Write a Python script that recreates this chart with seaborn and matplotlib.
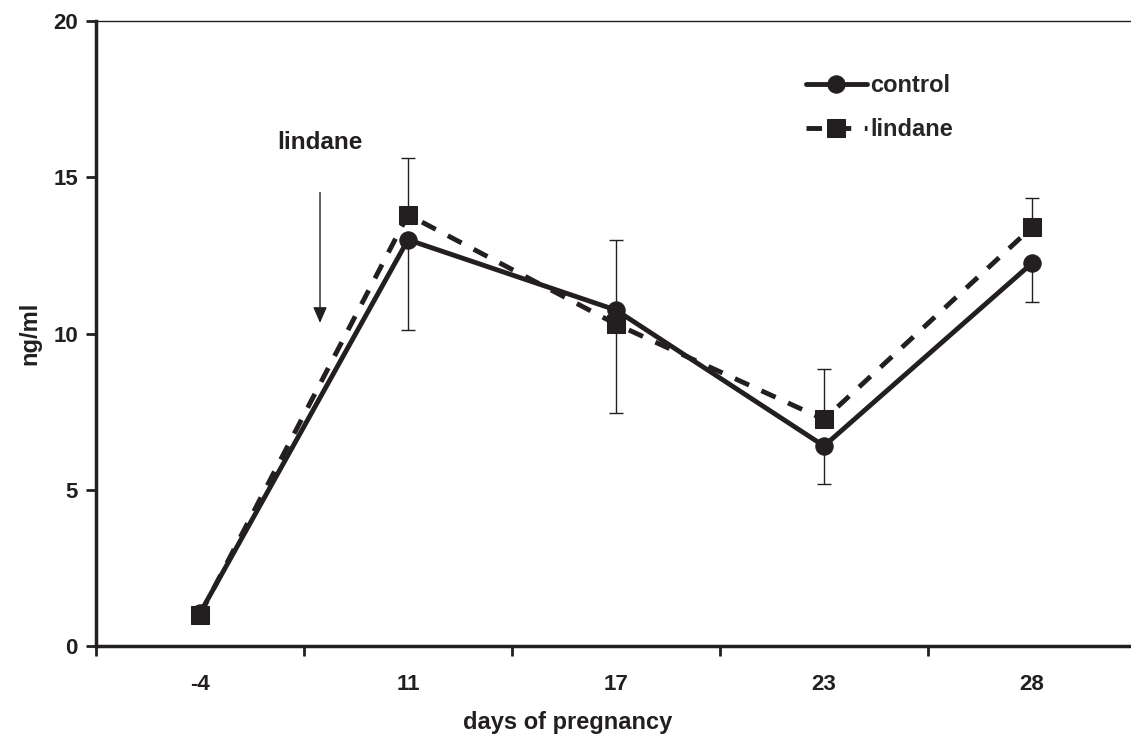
import matplotlib
matplotlib.use("Agg")
import matplotlib.pyplot as plt
import seaborn as sns
import pandas as pd
import numpy as np

days = ["-4", "11", "17", "23", "28"]
control = [1.05, 13.0, 10.75, 6.4, 12.25]
lindane = [1.0, 13.8, 10.3, 7.25, 13.4]
control_err_low = [0.0, 2.9, 3.3, 1.2, 1.25]
lindane_err_high = [0.0, 1.8, 2.7, 1.6, 0.95]
yticks = [0, 5, 10, 15, 20]

sns.set_theme(style="white")
plt.rcParams['font.family'] = ['Liberation Sans', 'DejaVu Sans']
INK = "#231f20"

fig = plt.figure(figsize=(11.31, 7.38), dpi=100)
ax = fig.add_axes([96/1131, 1-646/738, 1-96/1131, (646-21)/738])

x = np.arange(len(days))
df_c = pd.DataFrame({"x": x, "y": control})
df_l = pd.DataFrame({"x": x, "y": lindane})

sns.lineplot(data=df_l, x="x", y="y", ax=ax, color=INK, lw=3.5,
             marker="s", markersize=12.5, markeredgecolor=INK,
             dashes=False, label="lindane", zorder=3)
ax.lines[-1].set_dashes([3.2, 2.8])
sns.lineplot(data=df_c, x="x", y="y", ax=ax, color=INK, lw=3.5,
             marker="o", markersize=12.5, markeredgecolor=INK,
             label="control", zorder=4)

# error bars (upper for lindane, lower for control)
m = x >= 1
ax.errorbar(x[m], np.array(lindane)[m], yerr=[np.zeros(m.sum()), np.array(lindane_err_high)[m]],
            fmt="none", ecolor=INK, elinewidth=1.0, capsize=5, capthick=1.0, zorder=2)
ax.errorbar(x[m], np.array(control)[m], yerr=[np.array(control_err_low)[m], np.zeros(m.sum())],
            fmt="none", ecolor=INK, elinewidth=1.0, capsize=5, capthick=1.0, zorder=2)

ax.set_xlim(-0.5, 4.476)
ax.set_ylim(0, 20)
ax.set_yticks(yticks)
ax.set_yticklabels([str(v) for v in yticks], fontsize=16, fontweight="bold", color=INK)
ax.set_xticks(np.arange(-0.5, 4.0, 1.0))
ax.set_xticklabels([])
ax.set_xticks(x, minor=True)
ax.set_xticklabels(days, minor=True, fontsize=16, fontweight="bold", color=INK)
ax.tick_params(axis="x", which="major", direction="out", length=7, width=2, color=INK, bottom=True)
ax.tick_params(axis="x", which="minor", length=0, pad=20, bottom=True)
ax.tick_params(axis="y", direction="out", length=7, width=2, color=INK, left=True, pad=6)

for s in ["top", "right"]:
    ax.spines[s].set_visible(False)
for s in ["left", "bottom"]:
    ax.spines[s].set_linewidth(2.5)
    ax.spines[s].set_color(INK)
ax.axhline(20, color=INK, lw=1.0, clip_on=False)

ax.set_xlabel("days of pregnancy", fontsize=17, fontweight="bold", color=INK, va="center")
ax.set_ylabel("ng/ml", fontsize=17, fontweight="bold", color=INK, va="center")
ax.xaxis.set_label_coords(0.456, -0.123)
ax.yaxis.set_label_coords(-0.064, 0.5)

# annotation
ax.annotate("", xy=(0.577, 10.25), xytext=(0.577, 14.6),
            arrowprops=dict(arrowstyle="-|>,head_length=0.8,head_width=0.35", color=INK, lw=1.0))
ax.text(0.577, 16.1, "lindane", ha="center", va="center", fontsize=17.5, fontweight="bold", color=INK)

handles, labels = ax.get_legend_handles_labels()
order = [labels.index("control"), labels.index("lindane")]
ax.legend([handles[i] for i in order], [labels[i] for i in order],
          loc="upper left", bbox_to_anchor=(0.665, 0.949), frameon=False,
          prop={"weight": "bold", "size": 17}, handlelength=2.6,
          handletextpad=0.15, labelspacing=0.9)

fig.savefig("out.png", dpi=100)
